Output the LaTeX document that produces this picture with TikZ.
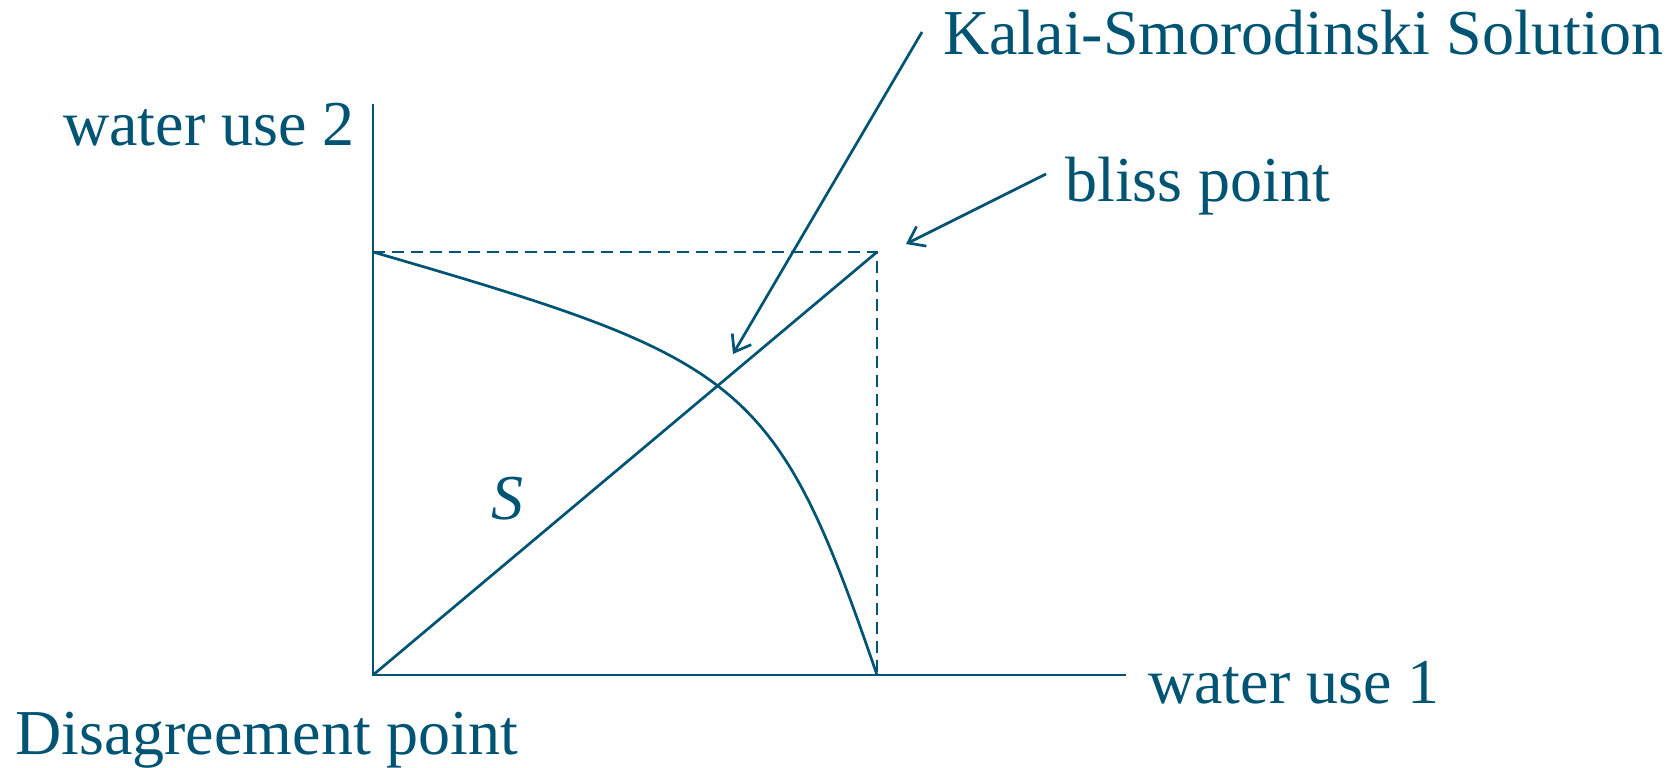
\documentclass[tikz,border=0pt]{standalone}
\usepackage{fontspec}
\setmainfont{Liberation Serif}
\usetikzlibrary{arrows.meta}
\definecolor{teal0}{RGB}{0,84,115}
\begin{document}
\begin{tikzpicture}[x=1pt,y=-1pt,
  every path/.style={draw=teal0,line width=2.7pt},
  lbl/.style={inner sep=0pt,anchor=base west,text=teal0,font=\fontsize{64}{70}\selectfont},
  dashline/.style={dash pattern=on 12pt off 7pt,line width=2.5pt},
  ptr/.style={-{Straight Barb[length=15pt,width=22pt,line width=2.7pt]}}]
\useasboundingbox[draw=none] (0,0) rectangle (1679,768);
% key points
\coordinate (O) at (373,675);
\coordinate (ytop) at (373,104);
\coordinate (xend) at (1126,675);
\coordinate (B) at (877,252);
\coordinate (Y) at (373,252);
\coordinate (X) at (877,675);
\coordinate (ksStart) at (922,32);
\coordinate (ksTip) at (733,354);
\coordinate (bpStart) at (1046,174);
\coordinate (bpTip) at (906,244);
% labels
\node[lbl] (ks) at (942,55) {Kalai-Smorodinski Solution};
\node[lbl] (wu2) at (62,145) {water use 2};
\node[lbl] (bp) at (1064,201) {bliss point};
\node[lbl] (wu1) at (1147,703) {water use 1};
\node[lbl] (dp) at (14,754) {Disagreement point};
\node[lbl,font=\fontsize{64}{70}\selectfont\itshape] (S) at (490,519) {S};
% axes
\draw (ytop) -- (O) -- (xend);
% dashed box
\draw[dashline] (Y) -- (B) -- (X);
% diagonal
\draw (O) -- (B);
% frontier
\draw (Y) .. controls (745,360) and (775,378) .. (X);
% pointers
\draw[ptr] (ksStart) -- (ksTip);
\draw[ptr] (bpStart) -- (bpTip);
\end{tikzpicture}
\end{document}
